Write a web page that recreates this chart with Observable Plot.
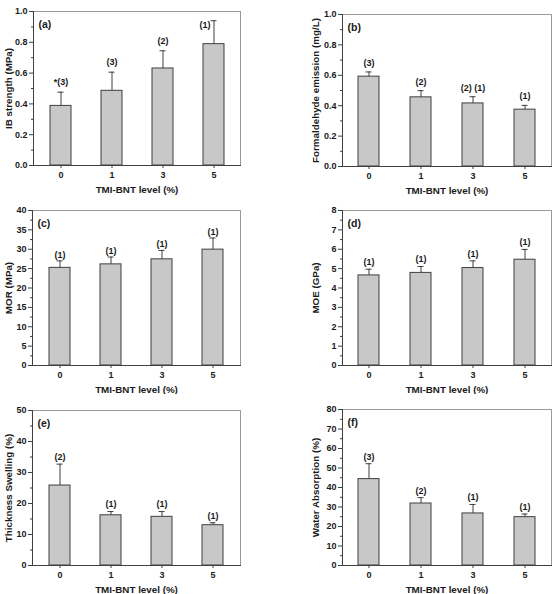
<!DOCTYPE html>
<html>
<head>
<meta charset="utf-8">
<script src="https://cdn.jsdelivr.net/npm/d3@7"></script>
<script src="https://cdn.jsdelivr.net/npm/@observablehq/plot@0.6"></script>
<style>
  html, body { margin: 0; padding: 0; background: #fff; }
  #wrap { position: relative; width: 559px; height: 594px; overflow: hidden; background: #fff; }
  .cell { position: absolute; }
</style>
</head>
<body>
<div id="wrap"></div>
<script>
// ---- data ----
const levels = ["0", "1", "3", "5"];

const ibMean = [0.387, 0.485, 0.630, 0.788];
const ibErr  = [0.089, 0.121, 0.115, 0.152];
const ibLabels = ["*(3)", "(3)", "(2)", "(1)"];

const feMean = [0.591, 0.455, 0.415, 0.374];
const feErr  = [0.031, 0.044, 0.044, 0.028];
const feLabels = ["(3)", "(2)", "(2) (1)", "(1)"];

const morMean = [25.2, 26.1, 27.4, 29.9];
const morErr  = [1.8, 1.9, 2.3, 3.0];
const morLabels = ["(1)", "(1)", "(1)", "(1)"];

const moeMean = [4.65, 4.78, 5.03, 5.46];
const moeErr  = [0.32, 0.33, 0.37, 0.53];
const moeLabels = ["(1)", "(1)", "(1)", "(1)"];

const tsMean = [25.8, 16.2, 15.7, 13.0];
const tsErr  = [6.9, 1.2, 1.7, 0.8];
const tsLabels = ["(2)", "(1)", "(1)", "(1)"];

const waMean = [44.3, 31.8, 26.7, 24.8];
const waErr  = [7.9, 3.0, 4.6, 1.6];
const waLabels = ["(3)", "(2)", "(1)", "(1)"];

const ibTicks  = [0, 0.2, 0.4, 0.6, 0.8, 1.0];
const feTicks  = [0, 0.2, 0.4, 0.6, 0.8, 1.0];
const morTicks = [0, 5, 10, 15, 20, 25, 30, 35, 40];
const moeTicks = [0, 1, 2, 3, 4, 5, 6, 7, 8];
const tsTicks  = [0, 10, 20, 30, 40, 50];
const waTicks  = [0, 10, 20, 30, 40, 50, 60, 70, 80];

const xTitle = "TMI-BNT level (%)";

// ---- panels ----
const panels = [
  {tag: "(a)", ylabel: "IB strength (MPa)", mean: ibMean, err: ibErr, labels: ibLabels, ticks: ibTicks, fmt: "0.0",
   left: 0, top: 0, w: 279, h: 197, mL: 33, mR: 39, mT: 11, mB: 32, ylabX: 10, off: 10},
  {tag: "(b)", ylabel: "Formaldehyde emission (mg/L)", mean: feMean, err: feErr, labels: feLabels, ticks: feTicks, fmt: "0.0",
   left: 279, top: 0, w: 280, h: 197, mL: 63, mR: 8, mT: 14, mB: 31, ylabX: 38, off: 9},
  {tag: "(c)", ylabel: "MOR (MPa)", mean: morMean, err: morErr, labels: morLabels, ticks: morTicks, fmt: "0",
   left: 0, top: 197, w: 279, h: 197, mL: 32, mR: 39, mT: 13, mB: 29, ylabX: 10, off: 6},
  {tag: "(d)", ylabel: "MOE (GPa)", mean: moeMean, err: moeErr, labels: moeLabels, ticks: moeTicks, fmt: "0",
   left: 279, top: 197, w: 280, h: 197, mL: 63, mR: 8, mT: 13, mB: 29, ylabX: 38, off: 7},
  {tag: "(e)", ylabel: "Thickness Swelling (%)", mean: tsMean, err: tsErr, labels: tsLabels, ticks: tsTicks, fmt: "0",
   left: 0, top: 394, w: 279, h: 200, mL: 32, mR: 39, mT: 16, mB: 29, ylabX: 10, off: 7},
  {tag: "(f)", ylabel: "Water Absorption (%)", mean: waMean, err: waErr, labels: waLabels, ticks: waTicks, fmt: "0",
   left: 279, top: 394, w: 280, h: 200, mL: 63, mR: 8, mT: 15, mB: 29, ylabX: 38, off: 7}
];

const ink = "#3f3f3f";
const txt = "#1a1a1a";
const wrap = document.getElementById("wrap");

for (const p of panels) {
  const rows = levels.map((l, i) => ({level: l, mean: p.mean[i], err: p.err[i], label: p.labels[i]}));
  const ymax = p.ticks[p.ticks.length - 1];
  const step = p.ticks[1] - p.ticks[0];
  const minor = d3.range(step / 2, ymax, step);
  const fmt = d3.format(p.fmt === "0.0" ? ".1f" : "d");
  const near = d => (d.mean + d.err) / ymax > 0.9;

  const chart = Plot.plot({
    width: p.w, height: p.h,
    marginLeft: p.mL, marginRight: p.mR, marginTop: p.mT, marginBottom: p.mB,
    style: {fontFamily: "'Liberation Sans', Arial, sans-serif", fontWeight: "bold", fontSize: "9px", color: txt, background: "white", overflow: "visible"},
    x: {domain: levels, paddingInner: 0.59, paddingOuter: 0.3},
    y: {domain: [0, ymax]},
    marks: [
      Plot.barY(rows, {x: "level", y: "mean", fill: "#c8c8c8", stroke: ink, strokeWidth: 1}),
      Plot.ruleX(rows, {x: "level", y1: "mean", y2: d => d.mean + d.err, stroke: ink, strokeWidth: 1}),
      Plot.tickY(rows, {x: "level", y: d => d.mean + d.err, stroke: ink, strokeWidth: 1, insetLeft: 7.5, insetRight: 7.5}),
      Plot.text(rows.filter(d => !near(d)), {x: "level", y: d => d.mean + d.err, text: "label", dy: -p.off, fontSize: 9, fontWeight: "bold", fill: txt}),
      Plot.text(rows.filter(near), {x: "level", y: d => d.mean + d.err, text: "label", dx: -9, dy: 4, fontSize: 9, fontWeight: "bold", fill: txt}),
      Plot.frame({stroke: "#9a9a9a"}),
      Plot.frame({anchor: "left", stroke: ink}),
      Plot.frame({anchor: "bottom", stroke: ink}),
      Plot.axisY({ticks: minor, tickSize: 2, text: null, label: null, stroke: ink}),
      Plot.axisY({ticks: p.ticks, tickFormat: fmt, tickSize: 4, tickPadding: 2, stroke: ink, fontSize: 9, label: null}),
      Plot.axisY({ticks: [], tickSize: 0, fontSize: 9.8, label: p.ylabel, labelAnchor: "center", labelArrow: "none", labelOffset: p.mL - (p.ylabX - 5)}),
      Plot.axisX({tickSize: 3, tickPadding: 3.5, stroke: ink, fontSize: 9, label: null}),
      Plot.axisX({ticks: [], tickSize: 0, fontSize: 9.8, label: xTitle, labelAnchor: "center", labelArrow: "none", labelOffset: 27}),
      Plot.text([p.tag], {frameAnchor: "top-left", dx: 5, dy: 9, fontSize: 10.5, fontWeight: "bold", fill: txt})
    ]
  });

  const cell = document.createElement("div");
  cell.className = "cell";
  cell.style.left = p.left + "px";
  cell.style.top = p.top + "px";
  cell.appendChild(chart);
  wrap.appendChild(cell);
}
</script>
</body>
</html>
